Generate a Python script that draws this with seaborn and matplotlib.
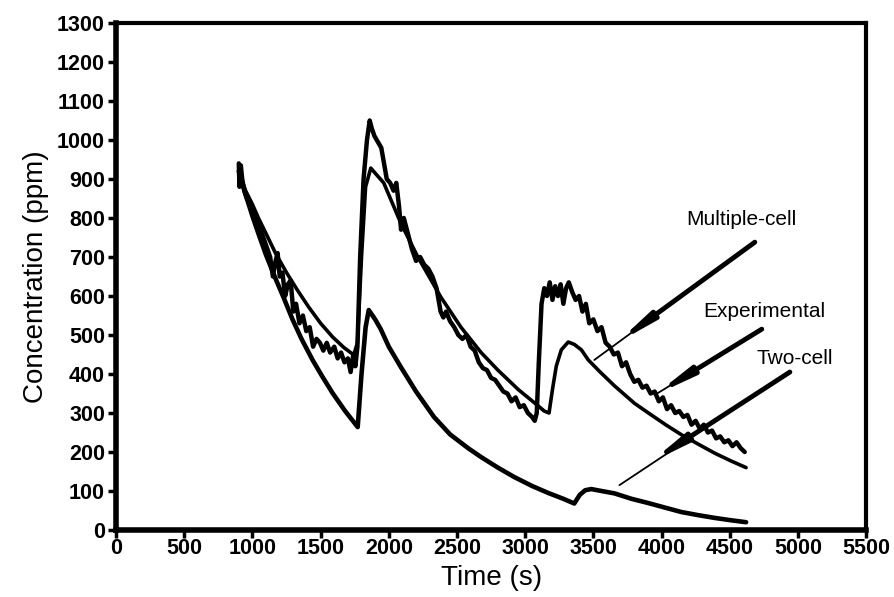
import matplotlib
matplotlib.use("Agg")
import matplotlib.pyplot as plt
import seaborn as sns
import pandas as pd

# ---------------- data ----------------
exp_time = [900, 905, 915, 925, 940, 960, 985, 1010, 1040, 1070, 1100, 1130, 1150, 1170, 1185,
            1200, 1220, 1240, 1260, 1280, 1300, 1320, 1345, 1370, 1395, 1420, 1445, 1470, 1495,
            1520, 1545, 1570, 1600, 1625, 1650, 1675, 1700, 1720, 1740, 1755, 1770, 1790, 1815,
            1840, 1860, 1875, 1895, 1920, 1945, 1965, 1985, 2010, 2035, 2055, 2075, 2090, 2110,
            2140, 2170, 2200, 2230, 2260, 2290, 2320, 2350, 2380, 2400, 2420, 2450, 2480, 2510,
            2540, 2570, 2600, 2630, 2660, 2690, 2720, 2750, 2780, 2810, 2840, 2870, 2900, 2930,
            2960, 2990, 3020, 3050, 3070, 3085, 3100, 3120, 3140, 3160, 3180, 3200, 3220, 3240,
            3260, 3280, 3300, 3320, 3345, 3370, 3395, 3420, 3445, 3470, 3500, 3530, 3560, 3590,
            3620, 3650, 3680, 3710, 3740, 3770, 3800, 3830, 3860, 3890, 3920, 3950, 3980, 4010,
            4040, 4070, 4100, 4130, 4160, 4190, 4220, 4250, 4280, 4310, 4340, 4370, 4400, 4430,
            4460, 4490, 4520, 4550, 4580, 4610]
exp_conc = [940, 880, 935, 900, 870, 850, 835, 810, 790, 760, 730, 700, 650, 690, 710,
            650, 660, 600, 630, 640, 560, 580, 530, 550, 510, 520, 470, 490, 480,
            460, 480, 455, 470, 440, 455, 430, 440, 405, 450, 420, 470, 700, 900,
            1000, 1050, 1030, 1010, 995, 980, 940, 900, 890, 870, 890, 830, 770, 800,
            760, 720, 690, 700, 680, 670, 650, 620, 560, 545, 560, 535, 520, 500,
            490, 500, 470, 460, 430, 415, 410, 390, 385, 370, 355, 350, 330, 340,
            315, 320, 300, 290, 280, 300, 430, 580, 620, 600, 635, 590, 625, 600,
            630, 580, 620, 635, 610, 590, 600, 560, 580, 530, 540, 510, 520, 480,
            470, 450, 455, 420, 430, 400, 380, 385, 365, 370, 350, 355, 330, 340,
            310, 320, 300, 305, 290, 295, 270, 280, 260, 270, 250, 255, 235, 240,
            225, 230, 215, 225, 210, 200]

two_time = [900, 950, 1000, 1044, 1100, 1169, 1230, 1294, 1360, 1441, 1510, 1588, 1680, 1772,
            1800, 1830, 1853, 1900, 1941, 2000, 2088, 2200, 2331, 2450, 2581, 2677, 2800, 2919,
            3050, 3169, 3280, 3360, 3400, 3440, 3485, 3560, 3654, 3780, 3904, 4030, 4147, 4270,
            4390, 4510, 4620]
two_conc = [920, 860, 805, 760, 705, 645, 595, 540, 490, 436, 395, 351, 305, 264,
            400, 520, 564, 540, 515, 470, 418, 355, 290, 245, 210, 187, 160, 136,
            113, 95, 80, 68, 90, 102, 105, 100, 94, 80, 69, 57, 46, 38,
            31, 25, 20]

multi_time = [900, 950, 1000, 1044, 1100, 1169, 1250, 1330, 1412, 1500, 1588, 1670, 1743, 1770,
              1800, 1830, 1868, 1900, 1963, 2088, 2213, 2382, 2529, 2677, 2800, 2950, 3096, 3140,
              3175, 3200, 3228, 3265, 3316, 3360, 3412, 3463, 3550, 3654, 3801, 3904, 4030, 4147,
              4270, 4390, 4510, 4620]
multi_conc = [920, 870, 835, 800, 760, 710, 660, 615, 572, 530, 495, 468, 449, 480,
              700, 880, 928, 915, 890, 787, 700, 597, 520, 455, 410, 360, 318, 305,
              300, 360, 420, 462, 482, 476, 462, 436, 405, 370, 325, 300, 270, 244,
              220, 197, 177, 160]

x_ticks = list(range(0, 5501, 500))
y_ticks = list(range(0, 1301, 100))

labels = ["Multiple-cell", "Experimental", "Two-cell"]
label_pos = [(4588, 795), (4750, 559), (4978, 441)]
arrow_start = [(4684, 738), (4735, 515), (4941, 405)]
arrow_head = [(3669, 479), (3949, 346), (3912, 172)]
arrow_tip = [(3507, 436), (3949, 346), (3691, 115)]

# ---------------- plot ----------------
sns.set_style("ticks")
plt.rcParams["font.family"] = ["Liberation Sans", "DejaVu Sans"]
plt.rcParams["text.color"] = "black"
plt.rcParams["axes.labelcolor"] = "black"
plt.rcParams["xtick.color"] = "black"
plt.rcParams["ytick.color"] = "black"

fig = plt.figure(figsize=(8.94, 5.97), dpi=100)
ax = fig.add_axes([0.1298, 0.1122, 0.839, 0.8493])

df_exp = pd.DataFrame({"t": exp_time, "c": exp_conc})
df_two = pd.DataFrame({"t": two_time, "c": two_conc})
df_multi = pd.DataFrame({"t": multi_time, "c": multi_conc})

sns.lineplot(data=df_two, x="t", y="c", ax=ax, color="black", lw=3.3, sort=False, estimator=None)
sns.lineplot(data=df_multi, x="t", y="c", ax=ax, color="black", lw=2.6, sort=False, estimator=None)
sns.lineplot(data=df_exp, x="t", y="c", ax=ax, color="black", lw=3.2, sort=False, estimator=None)

ax.set_xlim(0, 5500)
ax.set_ylim(0, 1300)
ax.set_xticks(x_ticks)
ax.set_yticks(y_ticks)
ax.set_xticklabels([str(v) for v in x_ticks], fontsize=15.5, fontweight="bold", color="black")
ax.set_yticklabels([str(v) for v in y_ticks], fontsize=15.5, fontweight="bold", color="black")
ax.tick_params(axis="y", direction="out", length=6, width=2.5, pad=2, colors="black")
ax.tick_params(axis="x", direction="out", length=6, width=2.5, pad=0, colors="black")

ax.set_xlabel("Time (s)", fontsize=20, labelpad=4, color="black")
ax.set_ylabel("Concentration (ppm)", fontsize=20, labelpad=6, color="black")

for side in ["left", "bottom"]:
    ax.spines[side].set_linewidth(4)
for side in ["top", "right"]:
    ax.spines[side].set_visible(True)
    ax.spines[side].set_linewidth(3)
for s in ax.spines.values():
    s.set_color("black")

for lab, lp, st, hd, tp in zip(labels, label_pos, arrow_start, arrow_head, arrow_tip):
    ax.text(lp[0], lp[1], lab, fontsize=15, ha="center", va="center", color="black")
    ax.annotate("", xy=tp, xytext=st,
                arrowprops=dict(arrowstyle="-", lw=1.3, color="black",
                                shrinkA=0, shrinkB=0))
    ax.annotate("", xy=hd, xytext=st,
                arrowprops=dict(arrowstyle="-|>,head_length=1.0,head_width=0.12",
                                lw=3.5, color="black", mutation_scale=20,
                                shrinkA=0, shrinkB=0))

fig.savefig("out.png", dpi=100)
